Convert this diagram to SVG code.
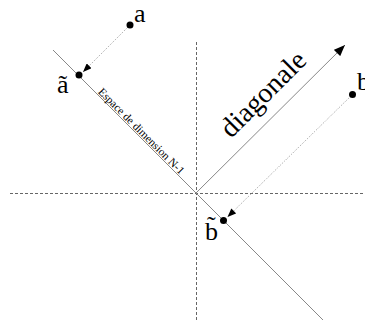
<svg xmlns="http://www.w3.org/2000/svg" width="365" height="320" viewBox="0 0 365 320">
<style>
.axis{stroke:#666;stroke-width:1;stroke-dasharray:3,2;fill:none}
.solid{stroke:#888;stroke-width:1;fill:none}
.dot-line{stroke:#999;stroke-width:1;stroke-dasharray:1,1.5;fill:none}
.pt{fill:#000}
.lbl{font-family:"Liberation Serif","Times New Roman",serif;fill:#000}
</style>
<defs>
<marker id="ah" viewBox="0 0 10 8" refX="10" refY="4" markerWidth="12" markerHeight="9" markerUnits="userSpaceOnUse" orient="auto">
<path d="M0,0 L10,4 L0,8 z" fill="#000"/>
</marker>
<marker id="ahs" viewBox="0 0 10 8" refX="10" refY="4" markerWidth="9" markerHeight="7" markerUnits="userSpaceOnUse" orient="auto">
<path d="M0,0 L10,4 L0,8 z" fill="#000"/>
</marker>
</defs>
<g id="connectors">
<line class="axis" x1="10" y1="193.5" x2="365" y2="193.5"/>
<line class="axis" x1="196.5" y1="42" x2="196.5" y2="320"/>
<line class="solid" x1="53" y1="50" x2="323" y2="320"/>
<line class="solid" x1="196" y1="193" x2="345" y2="45" marker-end="url(#ah)"/>
<line class="dot-line" x1="130" y1="25" x2="83" y2="72" marker-end="url(#ahs)"/>
<line class="dot-line" x1="352.5" y1="94.5" x2="227.5" y2="217" marker-end="url(#ahs)"/>
</g>
<g id="node-a">
<circle class="pt" cx="130" cy="25" r="3.5"/>
<text class="lbl" x="134" y="22" font-size="26">a</text>
</g>
<g id="node-a-tilde">
<circle class="pt" cx="79" cy="75" r="3.5"/>
<text class="lbl" x="57" y="93" font-size="26">ã</text>
</g>
<g id="node-b">
<circle class="pt" cx="352.5" cy="94.5" r="3.5"/>
<text class="lbl" x="357" y="90" font-size="26">b</text>
</g>
<g id="node-b-tilde">
<circle class="pt" cx="223.5" cy="220.5" r="3.5"/>
<text class="lbl" x="205" y="240" font-size="26">b̃</text>
</g>
<g id="label-diagonale">
<text class="lbl" font-size="28" transform="translate(231,139) rotate(-45)">diagonale</text>
</g>
<g id="label-espace">
<text class="lbl" font-size="11.4" transform="translate(97.5,92.5) rotate(45)">Espace de dimension N-1</text>
</g>
</svg>
